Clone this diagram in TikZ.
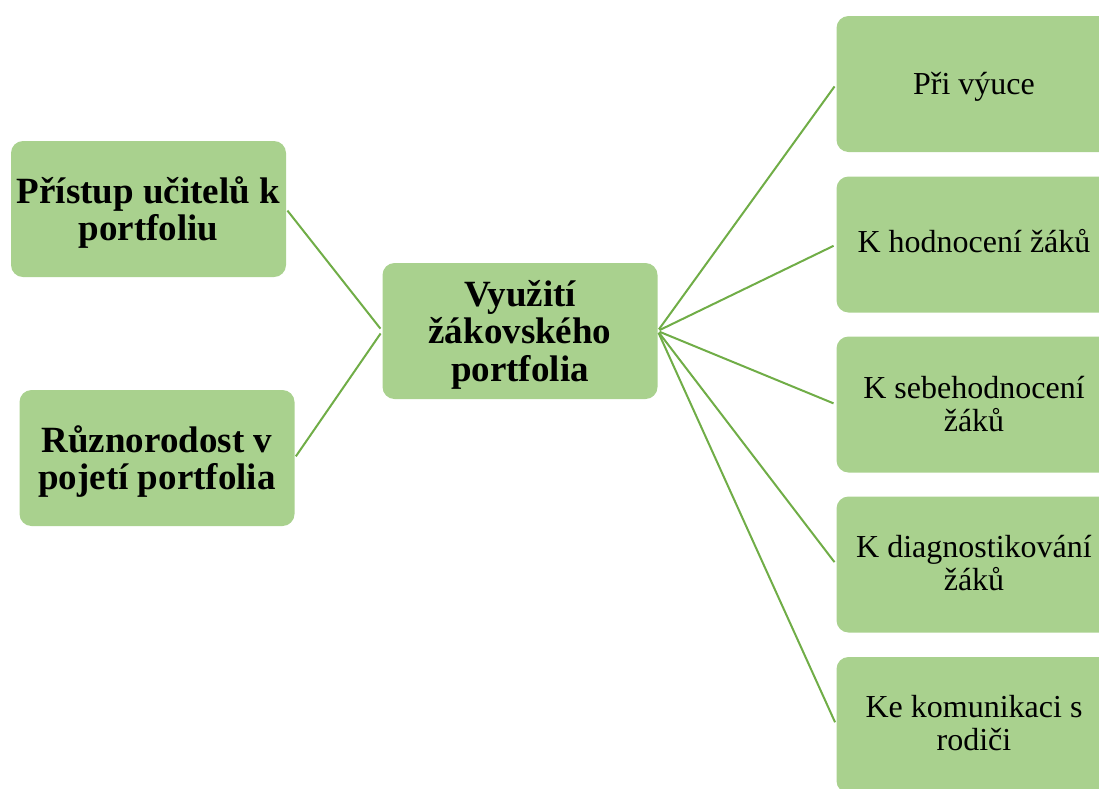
\documentclass[tikz,border=0pt]{standalone}
\usepackage{fontspec}
\setmainfont{Liberation Serif}
\definecolor{boxfill}{HTML}{A9D18E}
\definecolor{linkcol}{HTML}{70AD47}
\newcommand{\boxtext}[2]{\raisebox{#1}[\height][\depth]{\begin{tabular}{@{}c@{}}#2\end{tabular}}}
\tikzset{
  gbox/.style={fill=boxfill, rounded corners=12pt, minimum width=275pt, minimum height=136pt, inner sep=0pt},
  boldtxt/.style={font=\fontsize{37}{37.5}\selectfont\bfseries},
  regtxt/.style={font=\fontsize{32}{33}\selectfont},
  link/.style={draw=linkcol, line width=2pt, shorten <=2pt, shorten >=3pt}
}
\begin{document}
\begin{tikzpicture}[x=1pt,y=-1pt]
\useasboundingbox (0,0) rectangle (1099,788);
\node[gbox,boldtxt] (a) at (148.5,209) {\boxtext{-5pt}{Přístup učitelů k\\portfoliu}};
\node[gbox,boldtxt] (b) at (157,458) {\boxtext{-5pt}{Různorodost v\\pojetí portfolia}};
\node[gbox,boldtxt] (c) at (520,331) {\boxtext{-5pt}{Využití\\žákovského\\portfolia}};
\node[gbox,regtxt] (r1) at (974,84) {\boxtext{-4pt}{Při výuce}};
\node[gbox,regtxt] (r2) at (974,244.5) {\boxtext{-1pt}{K hodnocení žáků}};
\node[gbox,regtxt] (r3) at (974,404.5) {\boxtext{-4pt}{K sebehodnocení\\žáků}};
\node[gbox,regtxt] (r4) at (974,564.5) {\boxtext{-3pt}{K diagnostikování\\žáků}};
\node[gbox,regtxt] (r5) at (974,725) {\boxtext{-2pt}{Ke komunikaci s\\rodiči}};
\draw[link] (a.east) -- (c.west);
\draw[link] (b.east) -- (c.west);
\foreach \r in {r1,r2,r3,r4,r5} \draw[link] (c.east) -- (\r.west);
\end{tikzpicture}
\end{document}
